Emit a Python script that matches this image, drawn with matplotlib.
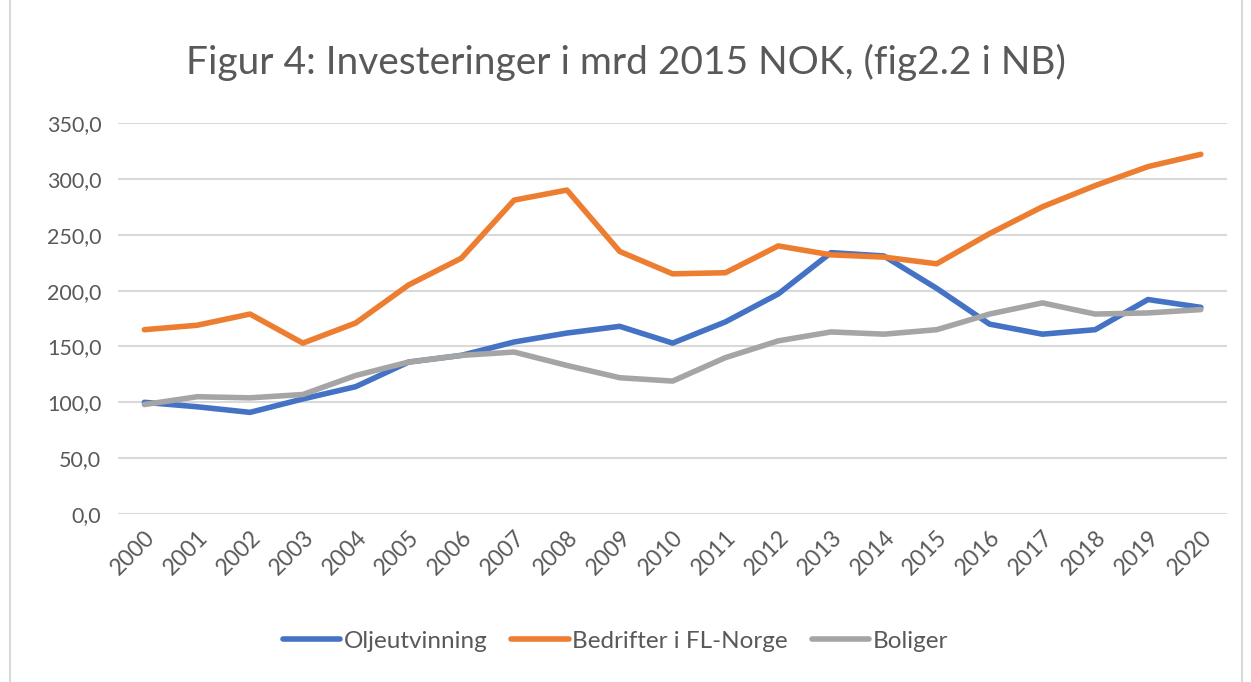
#!/usr/bin/env python3
import matplotlib
matplotlib.use("Agg")
import matplotlib.pyplot as plt
from matplotlib.patches import Rectangle

years = [str(y) for y in range(2000, 2021)]

olje = [100, 96, 91, 103, 114, 136, 142, 154, 162, 168, 153, 172, 197, 234, 231,
        202, 170, 161, 165, 192, 185]
bedrifter = [165, 169, 179, 153, 171, 205, 229, 281, 290, 235, 215, 216, 240, 232, 230,
             224, 251, 275, 294, 311, 322]
boliger = [98, 105, 104, 107, 124, 136, 142, 145, 133, 122, 119, 140, 155, 163, 161,
           165, 179, 189, 179, 180, 183]

series_names = ["Oljeutvinning", "Bedrifter i FL-Norge", "Boliger"]
colors = ["#4472C4", "#ED7D31", "#A5A5A5"]

plt.rcParams["font.family"] = ["Lato", "DejaVu Sans"]
text_color = "#595959"

fig = plt.figure(figsize=(12.51, 6.82), dpi=100)
ax = fig.add_axes([0.0943, 0.2463, 0.8867, 0.5733])

x = range(len(years))
for vals, name, c in zip([olje, bedrifter, boliger], series_names, colors):
    ax.plot(x, vals, color=c, linewidth=4.0, label=name, solid_capstyle="round",
            solid_joinstyle="round")

ax.set_xlim(-0.5, len(years) - 0.5)
ax.set_ylim(0, 350)
ax.set_yticks(range(0, 351, 50))
ax.set_yticklabels([f"{v},0" for v in range(0, 351, 50)])
ax.set_xticks(list(x))
ax.set_xticklabels(years, rotation=45, ha="right", rotation_mode="anchor")
ax.tick_params(axis="y", length=0, labelsize=15.5, colors=text_color, pad=12)
ax.tick_params(axis="x", length=0, labelsize=16.5, colors=text_color, pad=9)
ax.grid(axis="y", color="#D9D9D9", linewidth=1.5)
ax.set_axisbelow(True)
for s in ax.spines.values():
    s.set_visible(False)

fig.suptitle("Figur 4: Investeringer i mrd 2015 NOK, (fig2.2 i NB)", y=0.935,
             fontsize=28, color=text_color)

fig.legend(loc="center", bbox_to_anchor=(0.492, 0.06), ncol=3, frameon=False,
           fontsize=17.5, labelcolor=text_color, handlelength=2.35, handletextpad=0.15,
           columnspacing=1.0)

fig.patches.append(Rectangle((0.008, -0.01), 0.985, 1.02, transform=fig.transFigure,
                             fill=False, edgecolor="#D9D9D9", linewidth=1.5))

fig.savefig("out.png", dpi=100)
